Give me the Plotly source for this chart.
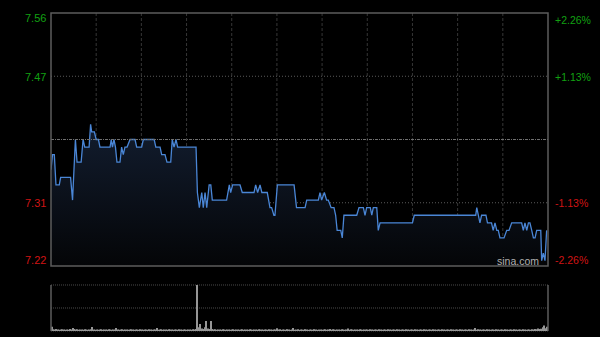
import plotly.graph_objects as go

# ---------------- data ----------------
prev_close = 7.39
pct_span = 2.26  # percent range shown above/below previous close

# price polyline vertices: minute index (0..330, HK session) and price
price_minutes = [0, 1, 2.2, 3.3, 5.5, 6.4, 13, 14.3, 16.2, 17.3, 20, 21.3, 22.4, 25.3, 26.3, 27, 28.8, 30,
                 31.5, 32.5, 39.2, 40, 40.8, 41.8, 42.8, 43.8, 45.8, 46.9, 48, 49.1, 50.5, 52.5, 55.8, 56.9,
                 60.2, 61.3, 68.5, 69.6, 72.4, 73.5, 75.7, 77, 79.5, 80.5, 81.7, 83, 84.1, 96.3, 97.2, 98.5,
                 100.1, 101.1, 102.3, 103.4, 105, 106.1, 107.1, 116.6, 118.4, 119.3, 120.6, 125.5, 127,
                 134.8, 135.9, 137.2, 138.8, 140, 143.6, 145.4, 146.5, 148, 148.7, 150.3, 161.4, 163,
                 168.7, 169.8, 177.5, 178.6, 179.7, 181.5, 183, 184.1, 186, 187.9, 189, 190, 192.4, 193.4,
                 194.5, 203, 204.5, 207.4, 208.5, 209.6, 212, 213, 214, 216.3, 217.3, 218.5, 240, 241.2,
                 282, 282.7, 284.8, 285.9, 288.8, 289.8, 292.5, 293.6, 294.8, 296, 297, 298.1, 300.8,
                 302.6, 304.1, 305.9, 312.5, 313.6, 314.7, 315.9, 317, 318, 319.2, 320.3, 321.4, 322.5,
                 325.2, 325.8, 326.9, 328, 329.1]
prices = [7.35, 7.37, 7.37, 7.33, 7.33, 7.34, 7.34, 7.31, 7.39, 7.36, 7.36, 7.39, 7.38, 7.38, 7.41, 7.40, 7.40, 7.39,
          7.39, 7.38, 7.38, 7.39, 7.38, 7.39, 7.38, 7.36, 7.36, 7.38, 7.37, 7.38, 7.38, 7.39, 7.39, 7.38,
          7.38, 7.39, 7.39, 7.38, 7.38, 7.37, 7.37, 7.36, 7.36, 7.39, 7.38, 7.39, 7.38, 7.38, 7.32, 7.30,
          7.32, 7.30, 7.32, 7.30, 7.33, 7.33, 7.31, 7.31, 7.33, 7.32, 7.33, 7.33, 7.32,
          7.32, 7.33, 7.32, 7.33, 7.32, 7.32, 7.30, 7.30, 7.29, 7.29, 7.33, 7.33, 7.30,
          7.30, 7.31, 7.31, 7.32, 7.31, 7.32, 7.31, 7.31, 7.30, 7.30, 7.29, 7.27, 7.27, 7.26,
          7.29, 7.29, 7.30, 7.30, 7.29, 7.30, 7.30, 7.29, 7.30, 7.30, 7.27, 7.28, 7.28, 7.29,
          7.29, 7.30, 7.28, 7.29, 7.29, 7.28, 7.28, 7.27, 7.28, 7.27, 7.27, 7.26, 7.26,
          7.27, 7.27, 7.28, 7.28, 7.27, 7.28, 7.27, 7.28, 7.28, 7.27, 7.26, 7.26, 7.27,
          7.27, 7.23, 7.24, 7.23, 7.27]

# per-minute volume (relative units, max = 1000)
volumes = [
    90, 40, 30, 45, 30, 25, 35, 40, 30, 25, 35, 25, 45, 30, 65, 45, 30, 40, 25, 30, 35, 25, 40, 30, 25, 35, 40, 85, 30, 25,
    35, 25, 30, 40, 25, 35, 30, 25, 40, 35, 25, 30, 35, 65, 30, 25, 35, 40, 25, 30, 35, 25, 30, 40, 30, 25, 35, 30, 25, 40,
    30, 25, 35, 30, 25, 40, 30, 25, 35, 30, 65, 25, 30, 40, 25, 35, 30, 25, 40, 30, 35, 25, 30, 35, 25, 40, 30, 25, 35, 30,
    25, 35, 30, 25, 40, 30, 45, 1000, 80, 150, 55, 45, 80, 220, 55, 45, 220, 45, 30, 40, 25, 35, 30, 25, 40, 30, 25, 35, 30, 25,
    35, 40, 25, 30, 35, 25, 30, 40, 25, 35, 30, 25, 40, 30, 25, 35, 30, 25, 40, 35, 30, 25, 35, 30, 25, 40, 30, 25, 35, 30,
    60, 30, 40, 25, 35, 30, 25, 40, 30, 25, 35, 65, 25, 30, 40, 25, 35, 30, 25, 40, 30, 25, 35, 30, 25, 40, 35, 25, 30, 35,
    25, 30, 40, 25, 35, 45, 25, 40, 30, 25, 35, 30, 25, 40, 35, 25, 30, 55, 25, 40, 30, 25, 35, 30, 25, 40, 30, 25, 35, 30,
    30, 25, 40, 35, 25, 30, 35, 25, 40, 30, 25, 35, 30, 25, 40, 35, 25, 30, 35, 25, 40, 30, 25, 35, 30, 25, 40, 35, 25, 30,
    35, 25, 40, 30, 25, 35, 30, 25, 40, 35, 25, 30, 35, 25, 40, 30, 25, 35, 30, 25, 40, 35, 25, 30, 35, 25, 40, 30, 25, 35,
    30, 25, 40, 35, 25, 30, 35, 25, 40, 30, 25, 35, 65, 25, 40, 35, 25, 30, 35, 25, 40, 30, 25, 35, 30, 25, 40, 35, 25, 30,
    35, 25, 40, 30, 25, 35, 30, 25, 40, 35, 25, 30, 35, 25, 40, 30, 25, 35, 30, 25, 40, 35, 45, 40, 55, 45, 50, 80, 120, 60, 90,
]
volume_minutes = list(range(len(volumes)))

left_labels = ["7.56", "7.47", "7.31", "7.22"]
right_labels = ["+2.26%", "+1.13%", "-1.13%", "-2.26%"]
label_colors = ["#12a012", "#12a012", "#d01414", "#d01414"]
grid_minutes = [30, 60, 90, 120, 150, 180, 210, 240, 270, 300]

# ---------------- figure ----------------
span = prev_close * pct_span / 100.0
lo, hi = prev_close - span, prev_close + span
q1, q3 = prev_close - span / 2, prev_close + span / 2

fig = go.Figure()

fig.add_trace(go.Scatter(
    x=price_minutes, y=prices, mode="lines",
    line=dict(color="#4a86d6", width=1.3),
    fill="tozeroy",
    fillgradient=dict(type="vertical", colorscale=[[0, "#040507"], [1, "#131e31"]], start=lo, stop=7.42),
    xaxis="x", yaxis="y", hoverinfo="skip",
))

fig.add_trace(go.Bar(
    x=volume_minutes, y=volumes, marker=dict(color="#969696", line=dict(width=0)),
    xaxis="x2", yaxis="y2", hoverinfo="skip",
))

FONT = "Arial, 'Liberation Sans', sans-serif"
main_dom = [0.2044, 1.0]
vol_dom = [0.0, 0.1447]

fig.update_layout(
    width=600, height=337,
    margin=dict(l=51, r=52, t=13, b=6, pad=0),
    paper_bgcolor="#000000", plot_bgcolor="#000000",
    showlegend=False, bargap=0.3,
    xaxis=dict(domain=[0, 1], range=[0, 330], showticklabels=False, showgrid=False,
               zeroline=False, showline=False, ticks="", anchor="y"),
    yaxis=dict(domain=main_dom, range=[lo, hi], showticklabels=False, showgrid=False,
               zeroline=False, showline=False, ticks="", anchor="x"),
    xaxis2=dict(domain=[0, 1], range=[-0.5, 330.5], showticklabels=False, showgrid=False,
                zeroline=False, showline=False, ticks="", anchor="y2"),
    yaxis2=dict(domain=vol_dom, range=[0, 1000], showticklabels=False, showgrid=False,
                zeroline=False, showline=False, ticks="", anchor="x2"),
)

shapes = []
# vertical grid lines (main panel)
for m in grid_minutes:
    shapes.append(dict(type="line", xref="x", yref="y domain", x0=m, x1=m, y0=0, y1=1,
                       line=dict(color="#363636", width=1, dash="3px,2px"), layer="below"))
# horizontal grid lines
for v in [q1, q3]:
    shapes.append(dict(type="line", xref="x domain", yref="y", x0=0, x1=1, y0=v, y1=v,
                       line=dict(color="#5a5a5a", width=1, dash="1px,2px"), layer="below"))
shapes.append(dict(type="line", xref="x domain", yref="y", x0=0, x1=1, y0=prev_close, y1=prev_close,
                   line=dict(color="#707070", width=1, dash="3px,1px,1px,1px"), layer="above"))
# main border
shapes.append(dict(type="rect", xref="x domain", yref="y domain", x0=0, x1=1, y0=0, y1=1,
                   line=dict(color="#5c5c5c", width=1.5), layer="above"))
# volume panel
for yy in [0, 0.5, 1]:
    shapes.append(dict(type="line", xref="x2 domain", yref="y2 domain", x0=0, x1=1, y0=yy, y1=yy,
                       line=dict(color="#4a4a4a", width=1, dash="1px,1px"), layer="below"))
for xx in [0, 1]:
    shapes.append(dict(type="line", xref="x2 domain", yref="y2 domain", x0=xx, x1=xx, y0=0, y1=1,
                       line=dict(color="#5c5c5c", width=1.5), layer="above"))
fig.update_layout(shapes=shapes)

annotations = []
left_y = [0.9836, 0.8003, 0.4031, 0.2217]
right_y = [0.978, 0.7994, 0.4025, 0.2223]
for txt, yy, c in zip(left_labels, left_y, label_colors):
    annotations.append(dict(text=txt, xref="paper", yref="paper", x=-0.006, y=yy,
                            xanchor="right", yanchor="middle", showarrow=False,
                            font=dict(family=FONT, size=11, color=c)))
for txt, yy, c in zip(right_labels, right_y, label_colors):
    annotations.append(dict(text=txt, xref="paper", yref="paper", x=1.0101, y=yy,
                            xanchor="left", yanchor="middle", showarrow=False,
                            font=dict(family=FONT, size=10.5, color=c)))
annotations.append(dict(text="sina.com", xref="paper", yref="paper", x=0.9396, y=0.2201,
                        xanchor="center", yanchor="middle", showarrow=False,
                        font=dict(family=FONT, size=10.5, color="#b0b0b0")))
fig.update_layout(annotations=annotations)

fig.write_html("out.html", config={"displayModeBar": False})
